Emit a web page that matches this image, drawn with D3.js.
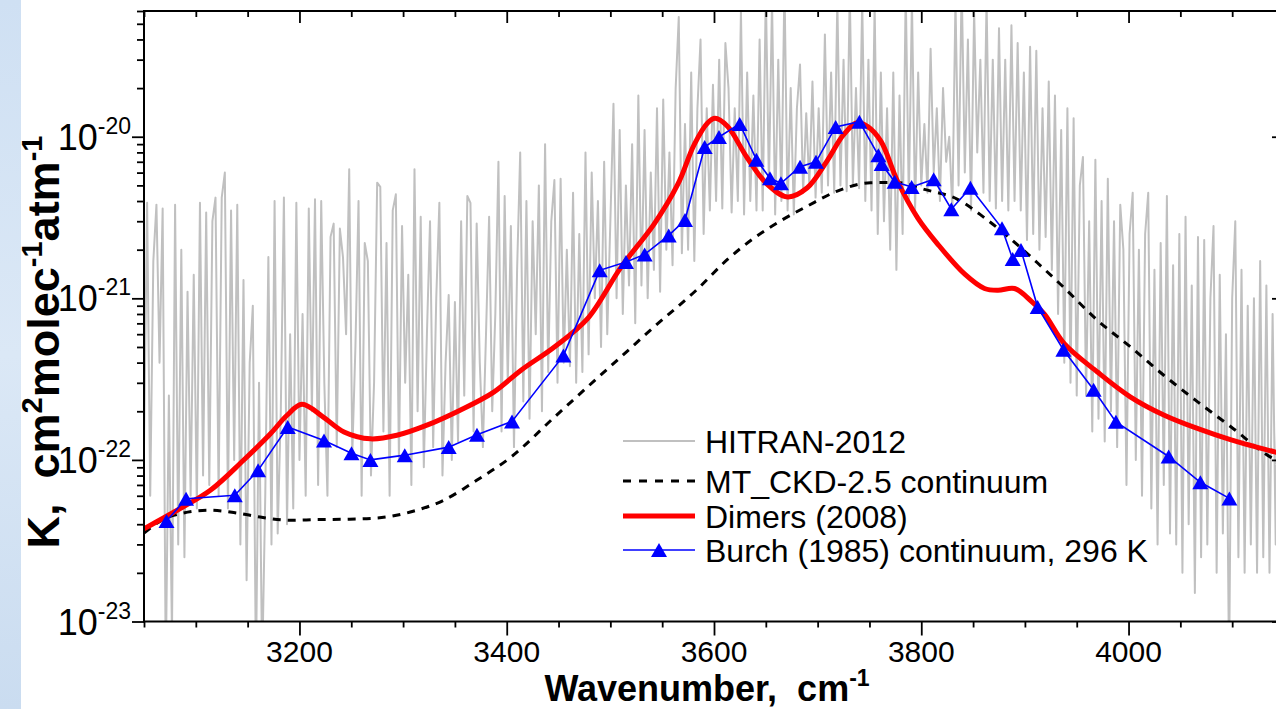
<!DOCTYPE html>
<html><head><meta charset="utf-8">
<script src="https://cdn.jsdelivr.net/npm/d3@7"></script>
<style>
body{margin:0;background:#fff;overflow:hidden}
svg{display:block}
text{font-family:"Liberation Sans",Arial,Helvetica,sans-serif;fill:#000}
</style></head><body>
<svg id="chart" width="1276" height="709"></svg>
<script>
// ---------- DATA ----------
// HITRAN-2012 absorption, sampled every 3 cm-1 from 3050 cm-1
const hitranStart = 3050, hitranStep = 3;
const hitranValues = [
1.2e-22,3.9e-21,6e-23,1.7e-21,3.8e-21,4e-22,3.6e-21,5e-24,2.5e-22,8e-24,
3.8e-21,3e-23,2e-21,2.5e-23,1.1e-21,6e-23,1.4e-21,5e-23,3.9e-21,8e-23,3.4e-21,
7e-23,3e-21,4.2e-21,6e-23,4.2e-21,6e-21,5e-23,3.5e-21,1e-22,3.8e-21,
3e-23,1.3e-21,1.8e-23,4e-22,9e-22,5e-24,3e-22,5e-24,6e-23,1.8e-21,
3e-23,4e-21,3.5e-23,2e-22,4.2e-21,4e-23,6e-22,5e-23,3.9e-21,1e-22,
8e-22,6e-23,3.6e-21,2e-22,4.1e-21,7e-23,4e-21,3e-22,6e-23,2.4e-21,
2.9e-21,1.2e-22,2.7e-21,1.8e-21,6e-22,6.3e-21,1.1e-22,5e-22,4e-21,6e-23,
2.2e-21,1.7e-21,8e-23,3e-22,5.2e-21,4.9e-21,1.5e-22,2.2e-21,6e-23,3.5e-21,
4.4e-21,1e-22,2.8e-21,3e-22,1.4e-21,7e-23,6.3e-21,2e-22,3.2e-21,9e-23,
6e-22,3e-21,1.2e-22,1e-21,3.9e-21,8e-23,4e-22,1.05e-21,1e-22,9.5e-22,
1.3e-22,3e-21,2.5e-22,4.3e-21,3.9e-21,1.5e-22,2.9e-21,4e-22,1.2e-22,6e-22,
3.2e-21,2e-22,8e-22,7e-21,1.5e-22,4.3e-21,3e-22,2.8e-21,1.2e-22,1.5e-21,
8e-21,2.3e-22,4e-21,1.8e-22,3e-21,6e-22,5e-21,2e-22,9e-21,3.5e-22,
3e-21,5.4e-21,3e-22,5.5e-21,4e-22,2e-21,3.8e-22,4.5e-21,3e-22,2.5e-21,
3.5e-22,8e-21,4.5e-22,6e-21,1e-21,4e-21,5e-22,7e-21,6e-22,3e-21,
1.6e-20,1e-21,1.1e-20,8e-22,5e-21,1.2e-21,9e-21,7e-22,1.8e-20,1.2e-21,
1.1e-20,1e-21,6e-21,1.5e-21,1.5e-20,1.1e-21,1.7e-20,2e-21,8e-21,1.6e-21,
2e-20,5.5e-20,1.9e-21,1.2e-20,2e-21,2.5e-20,1.7e-21,1.5e-20,4e-20,2.5e-21,
1.5e-20,3.5e-21,2.1e-20,4e-21,3e-20,3.6e-21,3.8e-20,2e-20,3.4e-21,1.5e-20,
4e-21,6e-20,3.3e-21,2.5e-20,4e-21,1.8e-20,3.5e-21,4e-20,3.5e-21,8e-20,
5e-21,7e-20,3.3e-21,3e-20,4e-21,9e-20,3.5e-21,2e-20,3.3e-21,1.5e-20,
2.8e-20,4.5e-21,1.4e-20,5e-21,2.2e-20,4.2e-21,1.5e-20,4.5e-21,4.3e-20,5e-21,
2.5e-20,4.5e-21,7e-20,5e-21,3e-20,4.6e-21,8e-20,5e-21,2e-20,4.8e-21,
7e-20,4e-21,3e-20,3.5e-21,6.5e-20,2.5e-21,2.5e-20,3e-21,1.5e-20,2e-21,
2.5e-20,1.5e-21,1.8e-20,2.5e-21,8e-20,4e-21,7e-20,3.5e-21,2.5e-20,5e-21,
1.2e-20,4.5e-21,3.5e-20,6e-21,1.5e-20,4e-21,2e-20,7e-21,1e-20,3.5e-21,
7e-20,5e-21,9e-20,6e-21,4e-20,3.5e-21,6e-20,8e-21,3e-20,4.5e-21,
7e-20,4e-21,3e-20,3.6e-21,4.7e-20,4e-21,3e-20,3.5e-21,4.9e-20,4e-21,
3.8e-20,3.5e-21,2.5e-20,2.3e-21,3.6e-20,2.5e-21,3.4e-20,2e-21,1.5e-20,2.4e-21,
2.2e-20,1.5e-21,1.8e-20,8e-22,1.1e-20,4e-22,1.5e-20,3e-22,1.3e-20,2.5e-22,
5e-21,7.5e-21,2.5e-22,3e-21,1.5e-22,7.2e-21,1.8e-22,4e-21,1.3e-22,5.5e-21,
2e-22,3e-21,1.2e-22,3.8e-21,2e-21,7e-23,2.5e-21,4.5e-21,1e-22,2e-21,
6e-23,2.5e-21,4.5e-21,5e-23,1.5e-21,3e-23,2.2e-21,7e-23,4.3e-21,3.5e-23,
1.6e-21,3e-23,2.5e-21,2e-23,3.2e-21,4e-23,1.2e-21,1.5e-23,2.4e-21,2.5e-23,
2.3e-21,3e-23,1e-21,2.8e-21,2e-23,1.4e-21,3.5e-23,6e-22,5e-24,1e-21,
3e-21,2.5e-23,1.5e-21,2e-23,9e-22,3e-23,1e-21,2e-23,1.7e-21,2.5e-23,
1.2e-21,2e-23,8e-22,3e-23,1.5e-21,2.5e-23
];

// MT_CKD-2.5 continuum
const ckdWavenumber = [3050,3075.5,3114,3140,3162,3191,3217,3243,3275,3307,3339,3371,3404,3446,3478,3510,3542,3584,3613,3639,3664,3690,3719,3751,3777,3803,3835,3861,3883,3912,3938,3970,4002,4034,4067,4099,4137,4150];
const ckdValues = [3.53e-23,4.48e-23,4.88e-23,4.69e-23,4.43e-23,4.23e-23,4.27e-23,4.29e-23,4.37e-23,4.76e-23,5.62e-23,7.48e-23,1.04e-22,1.84e-22,2.83e-22,4.33e-22,6.64e-22,1.14e-21,1.74e-21,2.37e-21,3.01e-21,3.72e-21,4.61e-21,5.19e-21,5.21e-21,4.72e-21,4.10e-21,3.15e-21,2.43e-21,1.66e-21,1.16e-21,7.31e-22,5.0e-22,3.34e-22,2.28e-22,1.60e-22,1.04e-22,9.4e-23];

// Dimers (2008)
const dimersWavenumber = [3050,3082,3114,3146,3172,3188,3202.5,3223,3243,3268.5,3294,3323,3355,3387.5,3413.5,3446,3478,3510,3542,3565,3581,3594,3601,3613,3632,3651.5,3671,3690,3709,3725,3738,3748,3761,3777,3796.5,3816,3842,3861,3874,3890,3906,3919,3938,3970,4002,4034.5,4067,4099,4141,4150];
const dimersValues = [3.75e-23,4.88e-23,6.48e-23,9.95e-23,1.45e-22,1.89e-22,2.21e-22,1.84e-22,1.49e-22,1.35e-22,1.42e-22,1.64e-22,2.03e-22,2.63e-22,3.58e-22,5.0e-22,7.48e-22,1.55e-21,2.87e-21,5.07e-21,8.97e-21,1.22e-20,1.30e-20,1.16e-20,7.41e-21,5.07e-21,4.24e-21,4.83e-21,7.07e-21,1.03e-20,1.22e-20,1.16e-20,9.4e-21,5.32e-21,3.15e-21,2.16e-21,1.41e-21,1.15e-21,1.12e-21,1.15e-21,9.62e-22,7.96e-22,5.24e-22,3.50e-22,2.45e-22,1.89e-22,1.56e-22,1.33e-22,1.12e-22,1.08e-22];

// Burch (1985) continuum, 296 K
const burchWavenumber = [3071.7,3090.6,3137.6,3160.1,3188.7,3223.7,3250.2,3268.5,3301.6,3344,3371.3,3405.1,3454.7,3489.7,3515.1,3533.1,3556.3,3572,3591,3604.8,3624.8,3640.9,3654,3664.6,3683,3698.4,3717.4,3740.3,3758.6,3761.8,3774.3,3790.7,3812,3829,3847.4,3877.9,3888.2,3896.2,3912.3,3937.1,3966.3,3987.8,4038.7,4069.3,4097.3];
const burchValues = [4.19e-23,5.75e-23,6.04e-23,8.62e-23,1.60e-22,1.32e-22,1.10e-22,1.00e-22,1.07e-22,1.20e-22,1.43e-22,1.73e-22,4.42e-22,1.49e-21,1.68e-21,1.87e-21,2.45e-21,3.05e-21,8.64e-21,9.96e-21,1.20e-20,7.21e-21,5.53e-21,5.15e-21,6.52e-21,7.0e-21,1.15e-20,1.24e-20,7.67e-21,6.78e-21,5.27e-21,4.89e-21,5.45e-21,3.56e-21,4.84e-21,2.71e-21,1.75e-21,1.99e-21,8.83e-22,4.81e-22,2.72e-22,1.72e-22,1.05e-22,7.27e-23,5.78e-23];

const xTickValues = [3200,3400,3600,3800,4000];
const yTickExponents = [-23,-22,-21,-20];
const legendLabels = ["HITRAN-2012","MT_CKD-2.5 continuum","Dimers (2008)","Burch (1985) continuum, 296 K"];

// ---------- CHART ----------
const svg = d3.select("#chart");
const W = 1276, H = 709;
const plot = {left:144, right:1284, top:11, bottom:621.5};

// light blue strip at left edge
const defs = svg.append("defs");
const grad = defs.append("linearGradient").attr("id","bg").attr("x1",0).attr("x2",0).attr("y1",0).attr("y2",1);
grad.append("stop").attr("offset","0%").attr("stop-color","#cfe0f3");
grad.append("stop").attr("offset","50%").attr("stop-color","#dbe8f6");
grad.append("stop").attr("offset","100%").attr("stop-color","#cadcf0");
svg.append("rect").attr("x",0).attr("y",0).attr("width",21).attr("height",H).attr("fill","url(#bg)");

defs.append("clipPath").attr("id","clip").append("rect")
  .attr("x",plot.left).attr("y",plot.top).attr("width",plot.right-plot.left).attr("height",plot.bottom-plot.top);

const x = d3.scaleLinear().domain([3050,4150]).range([plot.left,plot.right]);
const y = d3.scaleLog().domain([1e-23,6e-20]).range([plot.bottom,plot.top]);

const g = svg.append("g").attr("clip-path","url(#clip)");

// HITRAN
const hitran = hitranValues.map((v,i)=>({x:hitranStart+i*hitranStep, v}));
g.append("path").datum(hitran)
  .attr("d", d3.line().x(d=>x(d.x)).y(d=>y(d.v)))
  .attr("fill","none").attr("stroke","#c0c0c0").attr("stroke-width",2).attr("stroke-linejoin","round");

// MT_CKD dashed
const ckd = ckdWavenumber.map((w,i)=>({x:w,v:ckdValues[i]}));
g.append("path").datum(ckd)
  .attr("d", d3.line().x(d=>x(d.x)).y(d=>y(d.v)).curve(d3.curveMonotoneX))
  .attr("fill","none").attr("stroke","#000").attr("stroke-width",3).attr("stroke-dasharray","8,7");

// Dimers
const dim = dimersWavenumber.map((w,i)=>({x:w,v:dimersValues[i]}));
g.append("path").datum(dim)
  .attr("d", d3.line().x(d=>x(d.x)).y(d=>y(d.v)).curve(d3.curveCatmullRom.alpha(0.5)))
  .attr("fill","none").attr("stroke","#ff0000").attr("stroke-width",5).attr("stroke-linejoin","round");

// Burch
const burch = burchWavenumber.map((w,i)=>({x:w,v:burchValues[i]}));
g.append("path").datum(burch)
  .attr("d", d3.line().x(d=>x(d.x)).y(d=>y(d.v)))
  .attr("fill","none").attr("stroke","#0000ff").attr("stroke-width",1.6);
const triA = 16, triH = 14;
const triPath = `M0,${-triH/2}L${triA/2},${triH/2}L${-triA/2},${triH/2}Z`;
g.selectAll("path.tri").data(burch).enter().append("path").attr("class","tri")
  .attr("d",triPath).attr("transform",d=>`translate(${x(d.x)},${y(d.v)})`)
  .attr("fill","#0000ff");

// ---------- AXES ----------
const minorX = d3.range(3050,4151,50).filter(v=>!xTickValues.includes(v));
const yMajor = yTickExponents.map(e=>Math.pow(10,e));
const yMinor = [];
yTickExponents.forEach(e=>{ for(let k=2;k<=9;k++){ const v=k*Math.pow(10,e); if(v<=6e-20) yMinor.push(v);} });

function axisGroup(axis, transform){
  const a = svg.append("g").attr("transform",transform).call(axis);
  a.select(".domain").remove();
  a.selectAll("line").attr("stroke","#000").attr("stroke-width",1.8);
  a.selectAll("text").remove();
  return a;
}
axisGroup(d3.axisBottom(x).tickValues(xTickValues).tickSize(14), `translate(0,${plot.bottom})`);
axisGroup(d3.axisBottom(x).tickValues(minorX).tickSize(6), `translate(0,${plot.bottom})`);
axisGroup(d3.axisTop(x).tickValues(xTickValues).tickSize(-12), `translate(0,${plot.top})`);
axisGroup(d3.axisTop(x).tickValues(minorX).tickSize(-6), `translate(0,${plot.top})`);
axisGroup(d3.axisLeft(y).tickValues(yMajor).tickSize(12), `translate(${plot.left},0)`);
axisGroup(d3.axisLeft(y).tickValues(yMinor).tickSize(7), `translate(${plot.left},0)`);
axisGroup(d3.axisRight(y).tickValues(yMajor).tickSize(-12), `translate(${plot.right},0)`);
axisGroup(d3.axisRight(y).tickValues(yMinor).tickSize(-7), `translate(${plot.right},0)`);

// frame
svg.append("rect").attr("x",plot.left).attr("y",plot.top)
  .attr("width",plot.right-plot.left).attr("height",plot.bottom-plot.top)
  .attr("fill","none").attr("stroke","#000").attr("stroke-width",2);

// x tick labels
svg.append("g").selectAll("text").data(xTickValues).enter().append("text")
  .attr("x",d=>x(d)).attr("y",662).attr("text-anchor","middle")
  .attr("font-size",30).text(d=>d);

// y tick labels
const yl = svg.append("g").selectAll("text").data(yTickExponents).enter().append("text")
  .attr("x",131).attr("y",d=>y(Math.pow(10,d))+13).attr("text-anchor","end").attr("font-size",36);
yl.append("tspan").text("10");
yl.append("tspan").attr("dy",-16).attr("font-size",23).text(d=>String(d));

// x title
const xt = svg.append("text").attr("x",707).attr("y",701).attr("text-anchor","middle")
  .attr("font-size",36).attr("font-weight","bold");
xt.append("tspan").text("Wavenumber,\u00a0\u00a0cm");
xt.append("tspan").attr("dy",-15).attr("font-size",23).text("-1");

// y title
const yt = svg.append("text").attr("transform","translate(59,342) rotate(-90)")
  .attr("text-anchor","middle").attr("font-size",45).attr("font-weight","bold");
yt.append("tspan").text("K,\u00a0\u00a0cm");
yt.append("tspan").attr("dy",-17).attr("font-size",29).text("2");
yt.append("tspan").attr("dy",17).text("molec");
yt.append("tspan").attr("dy",-17).attr("font-size",29).text("-1");
yt.append("tspan").attr("dy",17).text("atm");
yt.append("tspan").attr("dy",-17).attr("font-size",29).text("-1");

// ---------- LEGEND ----------
const lg = svg.append("g");
const rows = [441,481,516,550];
const lx0 = 623, lx1 = 695;
lg.append("line").attr("x1",lx0).attr("x2",lx1).attr("y1",rows[0]).attr("y2",rows[0]).attr("stroke","#c0c0c0").attr("stroke-width",2);
lg.append("line").attr("x1",lx0).attr("x2",lx1).attr("y1",rows[1]).attr("y2",rows[1]).attr("stroke","#000").attr("stroke-width",3).attr("stroke-dasharray","8,8");
lg.append("line").attr("x1",lx0).attr("x2",lx1).attr("y1",rows[2]).attr("y2",rows[2]).attr("stroke","#ff0000").attr("stroke-width",5);
lg.append("line").attr("x1",lx0).attr("x2",lx1).attr("y1",rows[3]).attr("y2",rows[3]).attr("stroke","#0000ff").attr("stroke-width",1.6);
lg.append("path").attr("d",triPath).attr("transform",`translate(${(lx0+lx1)/2},${rows[3]})`).attr("fill","#0000ff");
lg.selectAll("text").data(legendLabels).enter().append("text")
  .attr("x",705).attr("y",(d,i)=>rows[i]+11.5).attr("font-size",32).text(d=>d);
</script>
</body></html>
